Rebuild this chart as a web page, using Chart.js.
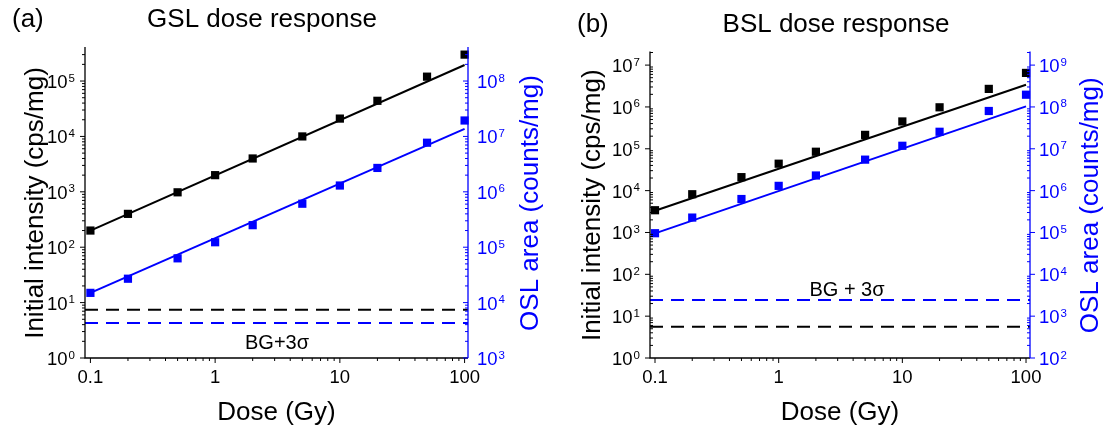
<!DOCTYPE html>
<html><head><meta charset="utf-8">
<script src="https://cdn.jsdelivr.net/npm/chart.js@4.4.0/dist/chart.umd.min.js"></script>
<style>
html,body{margin:0;padding:0;background:#fff;overflow:hidden}
#wrap{position:relative;width:1104px;height:431px}
canvas{position:absolute;top:0}
#ca{left:0}
#cb{left:552px}
</style></head><body>
<div id="wrap"><canvas id="ca" width="552" height="431"></canvas><canvas id="cb" width="552" height="431"></canvas></div>
<script>
// ---- data ----
const doses = [0.1, 0.2, 0.5, 1, 2, 5, 10, 20, 50, 100];
const gslInitial = [200, 400, 980, 2000, 4000, 10000, 21000, 44000, 120000, 300000];
const gslArea = [15000, 27000, 63000, 123000, 250000, 610000, 1300000, 2700000, 7700000, 19400000];
const bslInitial = [3400, 8200, 21000, 44000, 85000, 215000, 450000, 980000, 2700000, 6500000];
const bslArea = [96000, 227000, 630000, 1300000, 2300000, 5500000, 11800000, 25500000, 80000000, 196000000];
const fitDoses = [0.1, 100];
const gslInitialFit = [200, 195000];
const gslAreaFit = [15000, 13700000];
const bslInitialFit = [3300, 3400000];
const bslAreaFit = [95000, 103000000];
const gslBgInitial = 7.4, gslBgArea = 4300;
const bslBgInitial = 5.6, bslBgArea = 2440;
const xTickLabels = [0.1, 1, 10, 100];
const gslLeftExps = [0, 1, 2, 3, 4, 5];
const gslRightExps = [3, 4, 5, 6, 7, 8];
const bslLeftExps = [0, 1, 2, 3, 4, 5, 6, 7];
const bslRightExps = [2, 3, 4, 5, 6, 7, 8, 9];

const BLUE = '#0000FF', BLACK = '#000000';
const FONT = '"Liberation Sans", Arial, sans-serif';

function pts(xs, ys) { return xs.map((x, i) => ({x: x, y: ys[i]})); }
function flat(xr, v) { return [{x: xr[0], y: v}, {x: xr[1], y: v}]; }

function makePanel(p) {
  const W = 552, H = 431;
  const overlay = {
    id: 'overlay',
    afterDraw(chart) {
      const ctx = chart.ctx, a = chart.chartArea;
      const sx = chart.scales.x, sy = chart.scales.y, sy2 = chart.scales.y2;
      ctx.save();
      // axis lines
      ctx.lineWidth = 1.3;
      ctx.strokeStyle = BLACK;
      ctx.beginPath();
      ctx.moveTo(a.left, a.top - 1); ctx.lineTo(a.left, a.bottom); ctx.lineTo(a.right, a.bottom);
      ctx.stroke();
      ctx.strokeStyle = BLUE;
      ctx.beginPath(); ctx.moveTo(a.right, a.top - 1); ctx.lineTo(a.right, a.bottom); ctx.stroke();
      // ticks
      ctx.lineWidth = 1;
      function logTicks(scale, fn) {
        const e0 = Math.floor(Math.log10(scale.min)) - 1, e1 = Math.ceil(Math.log10(scale.max)) + 1;
        for (let e = e0; e <= e1; e++) for (let m = 1; m <= 9; m++) {
          const v = m * Math.pow(10, e);
          if (v < scale.min * 0.9999 || v > scale.max * 1.0001) continue;
          fn(scale.getPixelForValue(v), m === 1);
        }
      }
      ctx.strokeStyle = BLACK;
      logTicks(sx, (px, major) => {
        ctx.beginPath(); ctx.moveTo(px, a.bottom); ctx.lineTo(px, a.bottom + (major ? 5 : 3)); ctx.stroke();
      });
      logTicks(sy, (py, major) => {
        const d = major ? p.leftMajorDir : p.leftMinorDir;
        ctx.beginPath(); ctx.moveTo(a.left, py); ctx.lineTo(a.left + d * (major ? 5 : 3), py); ctx.stroke();
      });
      ctx.strokeStyle = BLUE;
      logTicks(sy2, (py, major) => {
        const d = major ? p.rightMajorDir : p.rightMinorDir;
        ctx.beginPath(); ctx.moveTo(a.right, py); ctx.lineTo(a.right + d * (major ? 5 : 3), py); ctx.stroke();
      });
      // tick labels
      const big = '18.5px ' + FONT, small = '11.5px ' + FONT;
      ctx.fillStyle = BLACK; ctx.font = big; ctx.textAlign = 'center'; ctx.textBaseline = 'alphabetic';
      xTickLabels.forEach(v => ctx.fillText(String(v), sx.getPixelForValue(v), 383));
      function pow(x, y, e, right, color) {
        ctx.fillStyle = color; ctx.textAlign = 'left'; ctx.textBaseline = 'alphabetic';
        ctx.font = big; const w1 = ctx.measureText('10').width;
        ctx.font = small; const w2 = ctx.measureText(String(e)).width;
        const x0 = right ? x - w1 - w2 - 1 : x;
        ctx.font = big; ctx.fillText('10', x0, y + 7);
        ctx.font = small; ctx.fillText(String(e), x0 + w1 + 1, y + 0.5);
      }
      p.leftExps.forEach(e => pow(a.left - 10, sy.getPixelForValue(Math.pow(10, e)), e, true, BLACK));
      p.rightExps.forEach(e => pow(a.right + 9, sy2.getPixelForValue(Math.pow(10, e)), e, false, BLUE));
      // titles
      ctx.font = '26px ' + FONT; ctx.fillStyle = BLACK; ctx.textBaseline = 'alphabetic';
      ctx.textAlign = 'left'; ctx.fillText(p.tag, p.tagX, p.titleY);
      ctx.textAlign = 'center'; ctx.fillText(p.title, p.titleX, p.titleY);
      ctx.fillText('Dose (Gy)', (a.left + a.right) / 2, 420);
      const cy = (a.top + a.bottom) / 2;
      ctx.save(); ctx.translate(p.leftTitleX, cy); ctx.rotate(-Math.PI / 2);
      ctx.fillText('Initial intensity (cps/mg)', 0, 0); ctx.restore();
      ctx.save(); ctx.translate(p.rightTitleX, cy); ctx.rotate(-Math.PI / 2);
      ctx.fillStyle = BLUE; ctx.fillText('OSL area (counts/mg)', 0, 0); ctx.restore();
      // BG label
      ctx.font = '20px ' + FONT; ctx.fillStyle = BLACK; ctx.textAlign = 'center';
      ctx.fillText(p.bgText, p.bgX, p.bgY);
      ctx.restore();
    }
  };
  const ds = [
    {data: pts(doses, p.initial), yAxisID: 'y', showLine: false, pointStyle: 'rect', pointRadius: 5.8, pointHoverRadius: 5.8, backgroundColor: BLACK, borderWidth: 0, clip: false},
    {data: pts(doses, p.area), yAxisID: 'y2', showLine: false, pointStyle: 'rect', pointRadius: 5.8, pointHoverRadius: 5.8, backgroundColor: BLUE, borderWidth: 0, clip: false},
    {data: pts(fitDoses, p.initialFit), yAxisID: 'y', showLine: true, pointRadius: 0, borderColor: BLACK, borderWidth: 2},
    {data: pts(fitDoses, p.areaFit), yAxisID: 'y2', showLine: true, pointRadius: 0, borderColor: BLUE, borderWidth: 2},
    {data: flat(p.xRange, p.bgInitial), yAxisID: 'y', showLine: true, pointRadius: 0, borderColor: BLACK, borderWidth: 2, borderDash: [13, 8]},
    {data: flat(p.xRange, p.bgArea), yAxisID: 'y2', showLine: true, pointRadius: 0, borderColor: BLUE, borderWidth: 2, borderDash: [13, 8]}
  ];
  const hidden = {ticks: {display: false}, grid: {display: false}, border: {display: false}, title: {display: false}};
  new Chart(document.getElementById(p.canvas), {
    type: 'scatter',
    data: {datasets: ds},
    options: {
      responsive: false, animation: false, devicePixelRatio: 1,
      layout: {padding: {top: p.area4.top, left: 0, right: 0, bottom: 0}},
      plugins: {legend: {display: false}, tooltip: {enabled: false}, title: {display: false}},
      events: [],
      scales: {
        x: Object.assign({type: 'logarithmic', position: 'bottom', min: p.xRange[0], max: p.xRange[1],
          afterFit: s => { s.height = H - p.area4.bottom; }}, hidden),
        y: Object.assign({type: 'logarithmic', position: 'left', min: p.yRange[0], max: p.yRange[1],
          afterFit: s => { s.width = p.area4.left; }}, hidden),
        y2: Object.assign({type: 'logarithmic', position: 'right', min: p.y2Range[0], max: p.y2Range[1],
          afterFit: s => { s.width = W - p.area4.right; }}, hidden)
      }
    },
    plugins: [overlay]
  });
}

makePanel({
  canvas: 'ca', area4: {left: 85, right: 468, top: 48, bottom: 358},
  xRange: [0.0905, 106.5], yRange: [1, 395000], y2Range: [1000, 395000000],
  initial: gslInitial, area: gslArea, initialFit: gslInitialFit, areaFit: gslAreaFit,
  bgInitial: gslBgInitial, bgArea: gslBgArea,
  leftExps: gslLeftExps, rightExps: gslRightExps,
  leftMajorDir: -1, leftMinorDir: -1, rightMajorDir: -1, rightMinorDir: -1,
  tag: '(a)', tagX: 12, title: 'GSL dose response', titleX: 262, titleY: 26.5,
  leftTitleX: 43, rightTitleX: 538, bgText: 'BG+3σ', bgX: 277, bgY: 349
});
makePanel({
  canvas: 'cb', area4: {left: 98, right: 478, top: 52.5, bottom: 358},
  xRange: [0.0911, 107.7], yRange: [1, 20000000], y2Range: [100, 2000000000],
  initial: bslInitial, area: bslArea, initialFit: bslInitialFit, areaFit: bslAreaFit,
  bgInitial: bslBgInitial, bgArea: bslBgArea,
  leftExps: bslLeftExps, rightExps: bslRightExps,
  leftMajorDir: -1, leftMinorDir: 1, rightMajorDir: 1, rightMinorDir: -1,
  tag: '(b)', tagX: 25, title: 'BSL dose response', titleX: 284, titleY: 31.5,
  leftTitleX: 48, rightTitleX: 546, bgText: 'BG + 3σ', bgX: 295, bgY: 296
});
</script>
</body></html>
